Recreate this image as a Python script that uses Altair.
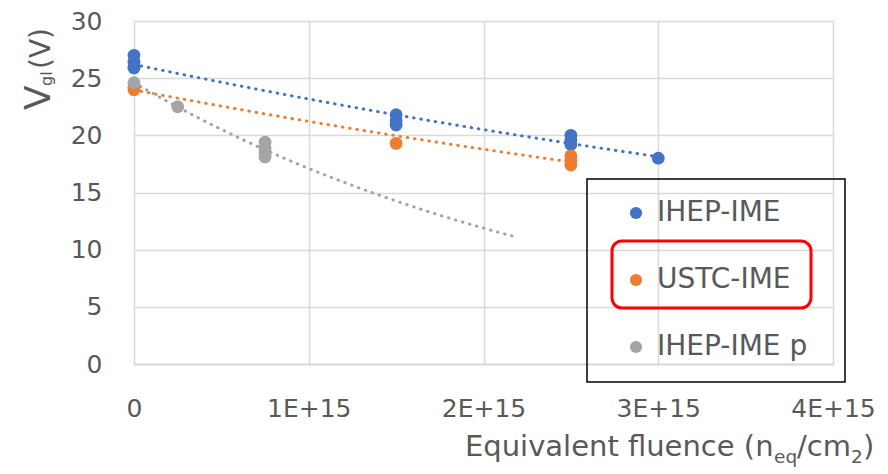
import altair as alt
import pandas as pd

# Measured gate-loss voltage vs. equivalent fluence for three sensor batches
series_names = ["IHEP-IME", "USTC-IME", "IHEP-IME p"]
series_colors = ["#4472C4", "#ED7D31", "#A5A5A5"]

ihep_fluence = [0, 0, 0, 0, 1.5e15, 1.5e15, 1.5e15, 2.5e15, 2.5e15, 2.5e15, 3.0e15]
ihep_vgl = [27.0, 26.4, 26.0, 25.9, 21.8, 21.3, 20.9, 20.0, 19.6, 19.2, 18.0]

ustc_fluence = [0, 0, 1.5e15, 2.5e15, 2.5e15, 2.5e15]
ustc_vgl = [24.2, 24.0, 19.3, 18.2, 17.8, 17.4]

ihepp_fluence = [0, 0.25e15, 0.75e15, 0.75e15, 0.75e15, 0.75e15]
ihepp_vgl = [24.6, 22.5, 19.4, 18.9, 18.5, 18.1]

# Exponential trend lines: fit range (the p-type fit is extended forward)
trend_extent = [[0, 3.0e15], [0, 2.5e15], [0, 2.2e15]]

x_ticks = [0, 1e15, 2e15, 3e15, 4e15]
x_tick_labels = ["0", "1E+15", "2E+15", "3E+15", "4E+15"]
y_ticks = [0, 5, 10, 15, 20, 25, 30]

frames = []
for name, xs, ys in zip(series_names,
                        [ihep_fluence, ustc_fluence, ihepp_fluence],
                        [ihep_vgl, ustc_vgl, ihepp_vgl]):
    frames.append(pd.DataFrame({"series": name, "fluence": xs, "vgl": ys}))
data = pd.concat(frames, ignore_index=True)
one_row = pd.DataFrame({"k": [0]})

label_expr = "''"
for v, lab in reversed(list(zip(x_ticks, x_tick_labels))):
    label_expr = f"datum.value == {v:.0f} ? '{lab}' : ({label_expr})"

TEXT = "#595959"
GRID = "#D9D9D9"
FONT = "DejaVu Sans"

W, H = 699, 343

x_enc = alt.X("fluence:Q", scale=alt.Scale(domain=[0, 4e15], nice=False),
              axis=alt.Axis(values=x_ticks, labelExpr=label_expr, title=None,
                            grid=True, gridColor=GRID, gridWidth=1.5,
                            domainColor=GRID, domainWidth=2, ticks=False,
                            labelPadding=32, labelFontSize=25, labelColor=TEXT,
                            labelFont=FONT, labelFlush=False))
y_enc = alt.Y("vgl:Q", scale=alt.Scale(domain=[0, 30], nice=False),
              axis=alt.Axis(values=y_ticks, title=None, grid=True,
                            gridColor=GRID, gridWidth=1.5, domain=False,
                            ticks=False, labelPadding=32, labelFontSize=25,
                            labelColor=TEXT, labelFont=FONT))

base = alt.Chart(data)

trend_layers = []
for name, color, ext in zip(series_names, series_colors, trend_extent):
    trend_layers.append(
        base.transform_filter(alt.datum.series == name)
        .transform_regression("fluence", "vgl", method="exp", extent=ext)
        .mark_line(strokeWidth=3, strokeDash=[0.5, 6.8], strokeCap="round")
        .encode(x=x_enc, y=y_enc, stroke=alt.value(color))
    )

points = base.mark_circle(size=165, opacity=1).encode(
    x=x_enc, y=y_enc,
    color=alt.Color("series:N",
                    scale=alt.Scale(domain=series_names, range=series_colors),
                    legend=alt.Legend(orient="none", legendX=488, legendY=178,
                                      title=None, labelFontSize=28,
                                      labelColor=TEXT, labelFont=FONT,
                                      symbolSize=150, symbolType="circle",
                                      labelOffset=7, rowPadding=39,
                                      padding=0)),
)

# Legend frame and highlight box around the USTC entry
frame = alt.Chart(one_row).mark_rect(fill=None, stroke="black",
                                     strokeWidth=1.5).encode(
    x=alt.value(453), x2=alt.value(711), y=alt.value(158), y2=alt.value(361))
highlight = alt.Chart(one_row).mark_rect(fill=None, stroke="#FF0000",
                                         strokeWidth=3, cornerRadius=10).encode(
    x=alt.value(478), x2=alt.value(677), y=alt.value(220), y2=alt.value(287))


def label(text, x, y, size, angle=0):
    return alt.Chart(one_row).mark_text(text=text, font=FONT, fontSize=size,
                                        color=TEXT, align="left",
                                        baseline="alphabetic",
                                        angle=angle).encode(
        x=alt.value(x), y=alt.value(y))


# x-axis title with subscripts
x_title = [
    label("Equivalent fluence (n", 331, 435, 29),
    label("eq", 640, 442, 18.5),
    label("/cm", 663, 435, 29),
    label("2", 717, 442, 18.5),
    label(")", 729, 435, 29),
]
# y-axis title (rotated) with subscript
y_title = [
    label("V", -84, 89, 36, angle=270),
    label("gl", -82, 65, 16, angle=270),
    label("(V)", -84, 48, 28, angle=270),
]

chart = alt.layer(*trend_layers, points, frame, highlight, *x_title, *y_title).properties(
    width=W, height=H,
    autosize=alt.AutoSizeParams(type="none"),
    padding={"left": 134, "top": 21, "right": 55, "bottom": 110},
).configure_view(stroke=GRID, strokeWidth=1.5).configure(background="white")

chart.save("out.html", embed_options={"renderer": "svg", "actions": False})
